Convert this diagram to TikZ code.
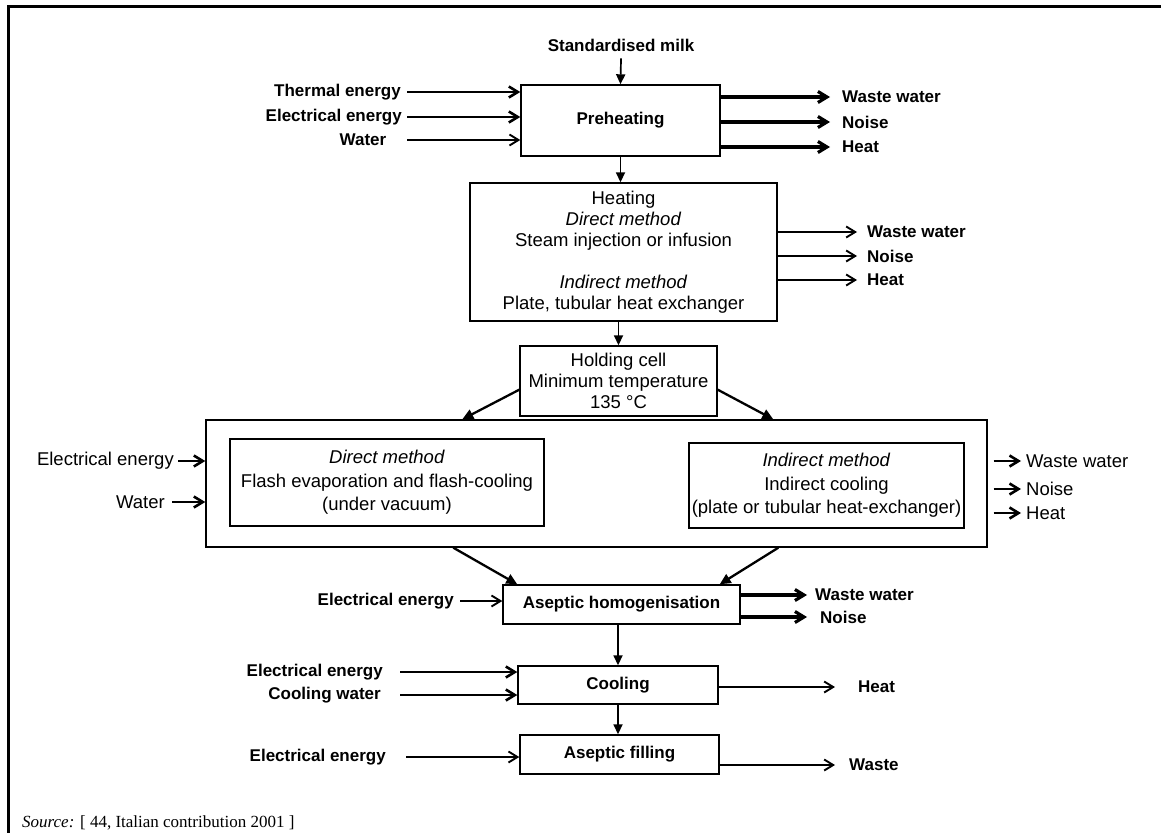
\documentclass[tikz,border=0pt]{standalone}
\usepackage{fontspec}
\setmainfont{Liberation Sans}
\newfontfamily\srcfont{Liberation Serif}
\usetikzlibrary{arrows.meta,calc}
\newcommand{\fLbl}{\fontsize{17}{20}\selectfont\bfseries}
\newcommand{\fBox}{\fontsize{18.5}{21}\selectfont}
\newcommand{\fBoxW}{\fontsize{18.5}{23.5}\selectfont}
\begin{document}
\begin{tikzpicture}[x=1pt,y=-1pt,
  box/.style={draw, line width=1.4pt, inner sep=0pt, align=center, fill=white},
  lbl/.style={inner sep=0pt, font=\fLbl},
  lblr/.style={inner sep=0pt, font=\fBox},
  harr/.style={line width=2.6pt, -{Straight Barb[length=9pt,width=11pt]}},
  harrT/.style={line width=3.2pt, -{Straight Barb[length=9pt,width=11pt]}},
  harrt/.style={line width=1.9pt, -{Straight Barb[length=9pt,width=11pt]}},
  varr/.style={line width=1.7pt, -{Triangle[length=10pt,width=9pt]}},
  darr/.style={line width=2.3pt, -{Triangle[length=11pt,width=10pt]}}
]
\useasboundingbox (0,0) rectangle (1161,832);
\draw[line width=3pt] (8,833) -- (8,7) -- (1162,7);

% Preheating
\node[box, font=\fLbl, minimum width=199pt, minimum height=71pt] (pre) at (620.5,120.5) {Preheating};
\node[lbl] (milk) at (621,45) {Standardised milk};
\draw[varr] ([yshift=-7pt]milk.south) -- (pre.north);
\node[lbl, anchor=east] (te) at (401,92) {Thermal energy};
\node[lbl, anchor=east] (ee1) at (402,117) {Electrical energy};
\node[lbl] (w1) at (363,140) {Water};
\draw[harr] ([xshift=6pt]te.east) -- (pre.west |- te.east);
\draw[harr] ([xshift=5pt]ee1.east) -- (pre.west |- ee1.east);
\draw[harrt] ([xshift=6pt]te.east |- w1.east) -- (pre.west |- w1.east);
\node[lbl, anchor=west] (ww1) at (842,97) {Waste water};
\node[lbl, anchor=west] (n1) at (842,122) {Noise};
\node[lbl, anchor=west] (h1) at (842,147) {Heat};
\draw[harrT] (pre.east |- ww1.west) -- ([xshift=-12pt]ww1.west);
\draw[harrT] (pre.east |- n1.west) -- ([xshift=-12pt]n1.west);
\draw[harrT] (pre.east |- h1.west) -- ([xshift=-12pt]h1.west);

% Heating
\node[box, font=\fBox, minimum width=307pt, minimum height=138pt] (heat) at (623.5,252)
  {Heating\\\textit{Direct method}\\Steam injection or infusion\\[21pt]\textit{Indirect method}\\Plate, tubular heat exchanger};
\draw[varr] (pre.south) -- (pre.south |- heat.north);
\node[lbl, anchor=west] (ww2) at (867,232) {Waste water};
\node[lbl, anchor=west] (n2) at (867,256) {Noise};
\node[lbl, anchor=west] (h2) at (867,280) {Heat};
\draw[harrt] (heat.east |- ww2.west) -- ([xshift=-10pt]ww2.west);
\draw[harrt] (heat.east |- n2.west) -- ([xshift=-10pt]n2.west);
\draw[harrt] (heat.east |- h2.west) -- ([xshift=-10pt]h2.west);

% Holding cell
\node[box, font=\fBox, minimum width=197pt, minimum height=70pt] (hold) at (618.5,381)
  {Holding cell\\Minimum temperature\\135 °C};
\draw[varr] (hold.north |- heat.south) -- (hold.north);

% Cooling stage (big box)
\node[box, minimum width=781pt, minimum height=127pt] (big) at (596.5,483.5) {};
\node[box, font=\fBoxW, minimum width=314pt, minimum height=87pt] (dm) at (387,482.5)
  {\textit{Direct method}\\Flash evaporation and flash-cooling\\(under vacuum)};
\node[box, font=\fBoxW, minimum width=275pt, minimum height=85pt] (im) at (826.5,485.5)
  {\textit{Indirect method}\\Indirect cooling\\(plate or tubular heat-exchanger)};
\draw[darr] (hold.185) -- ([xshift=257pt]big.north west);
\draw[darr] (hold.355) -- ([xshift=568pt]big.north west);
\node[lblr, anchor=east] (ee2) at (174,461) {Electrical energy};
\node[lblr, anchor=east] (w2) at (165,502) {Water};
\draw[harr] ([xshift=4pt]ee2.east) -- (big.west |- ee2.east);
\draw[harr] ([xshift=7pt]w2.east) -- (big.west |- w2.east);
\node[lblr, anchor=west] (ww3) at (1026,461) {Waste water};
\node[lblr, anchor=west] (n3) at (1026,489) {Noise};
\node[lblr, anchor=west] (h3) at (1026,513) {Heat};
\draw[harr] ([xshift=6pt]big.east |- ww3.west) -- ([xshift=-5pt]ww3.west);
\draw[harr] ([xshift=6pt]big.east |- n3.west) -- ([xshift=-5pt]n3.west);
\draw[harr] ([xshift=6pt]big.east |- h3.west) -- ([xshift=-5pt]h3.west);

% Aseptic homogenisation
\node[box, font=\fLbl, minimum width=237pt, minimum height=39pt] (asep) at (621.5,604.5) {Aseptic homogenisation};
\draw[darr] ([xshift=248pt]big.south west) -- ([xshift=15pt]asep.north west);
\draw[darr] ([xshift=573pt]big.south west) -- ([xshift=-21pt]asep.north east);
\node[lbl, anchor=east] (ee3) at (454,601) {Electrical energy};
\draw[harrt] ([xshift=6pt]ee3.east) -- (asep.west |- ee3.east);
\node[lbl, anchor=west] (ww4) at (815,595) {Waste water};
\node[lbl, anchor=west] (n4) at (820,617) {Noise};
\draw[harrT] (asep.east |- ww4.west) -- ([xshift=-8pt]ww4.west);
\draw[harrT] (asep.east |- n4.west) -- ([xshift=-13pt]n4.west);

% Cooling
\node[box, font=\fLbl, minimum width=200pt, minimum height=38pt] (cool) at (618,685) {Cooling};
\draw[varr] (cool.north |- asep.south) -- (cool.north);
\node[lbl, anchor=east] (ee4) at (383,672) {Electrical energy};
\node[lbl, anchor=east] (cw) at (381,695) {Cooling water};
\draw[harr] ([xshift=17pt]ee4.east) -- (cool.west |- ee4.east);
\draw[harr] ([xshift=19pt]cw.east) -- (cool.west |- cw.east);
\node[lbl, anchor=west] (h4) at (858,687) {Heat};
\draw[harrt] (cool.east |- h4.west) -- ([xshift=-23pt]h4.west);

% Aseptic filling
\node[box, font=\fLbl, minimum width=199pt, minimum height=39pt] (afill) at (619.5,754.5) {Aseptic filling};
\draw[varr] (cool.south) -- (cool.south |- afill.north);
\node[lbl, anchor=east] (ee5) at (386,757) {Electrical energy};
\draw[harrt] ([xshift=20pt]ee5.east) -- (afill.west |- ee5.east);
\node[lbl, anchor=west] (wst) at (849,765) {Waste};
\draw[harrt] (afill.east |- wst.west) -- ([xshift=-14pt]wst.west);

% Source
\node[inner sep=0pt, anchor=base west, font=\fontsize{17}{20}\selectfont\srcfont] (src) at (22,827)
  {\textit{Source:} [ 44, Italian contribution 2001 ]};
\end{tikzpicture}
\end{document}
